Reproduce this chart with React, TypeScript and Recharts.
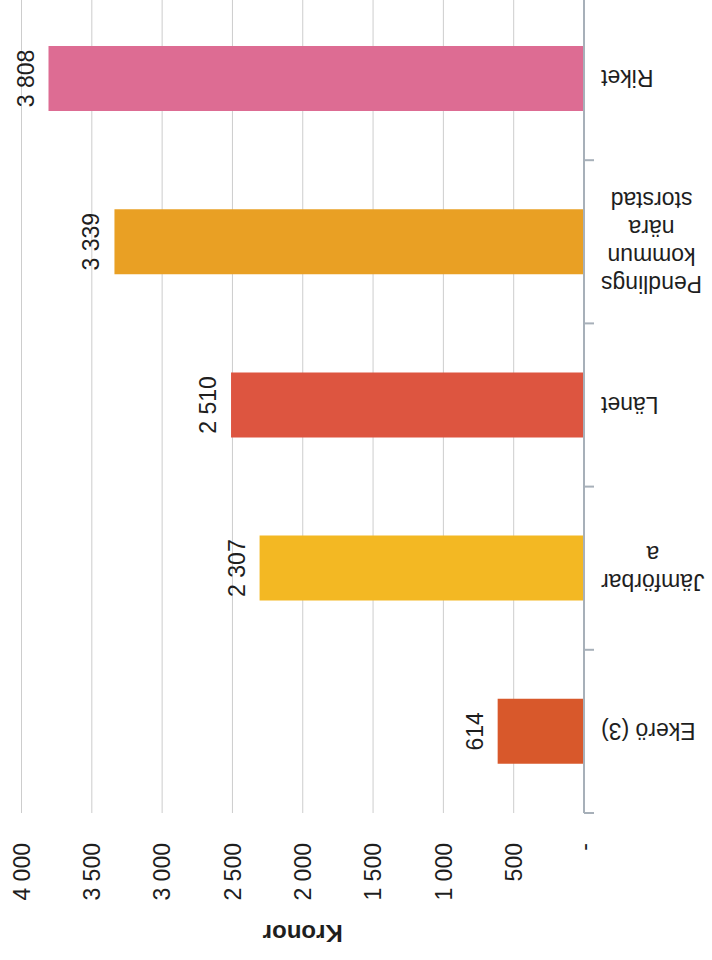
import { BarChart, Bar, XAxis, YAxis, CartesianGrid, Cell, LabelList, Label } from 'recharts';

const categories = ['Riket', 'Pendlingskommun nära storstad', 'Länet', 'Jämförbara', 'Ekerö (3)'];
const categoryLines = [
  ['Riket'],
  ['Pendlings', 'kommun', 'nära', 'storstad'],
  ['Länet'],
  ['Jämförbar', 'a'],
  ['Ekerö (3)'],
];
const values = [3808, 3339, 2510, 2307, 614];
const barColors = ['#dd6c93', '#e9a024', '#dd5540', '#f3b823', '#d8582b'];
const valueTicks = [0, 500, 1000, 1500, 2000, 2500, 3000, 3500, 4000];
const axisTitle = 'Kronor';

const data = categories.map((name, i) => ({ name, value: values[i] }));

const FONT = '"Liberation Sans", Arial, sans-serif';
const TEXT = '#1e1e1e';
const AXIS = '#a7b0b9';

// 3808 -> "3 808", 0 -> "-"
const fmt = (v: number) => (v === 0 ? '-' : String(v).replace(/\B(?=(\d{3})+(?!\d))/g, ' '));

let ctx: CanvasRenderingContext2D | null = null;
const measure = (s: string) => {
  if (!ctx) ctx = document.createElement('canvas').getContext('2d');
  if (!ctx) return s.length * 12;
  ctx.font = '23px "Liberation Sans"';
  return ctx.measureText(s).width;
};

const CategoryTick = (props: any) => {
  const { x, y, payload } = props;
  const i = categories.indexOf(payload.value);
  const lines = categoryLines[i] || [String(payload.value)];
  const half = payload.offset || 81.6;
  const axisX = x - 17;
  const w = Math.max(...lines.map(measure));
  const cx = x + w / 2;
  const lh = 28;
  return (
    <g>
      <line x1={axisX} x2={axisX + 10} y1={y + half} y2={y + half} stroke={AXIS} strokeWidth={2} />
      <g transform={`rotate(180, ${cx}, ${y})`}>
        <text x={cx} y={y} textAnchor="middle" fontSize={23} fontFamily={FONT} fill={TEXT}>
          {lines.map((l, k) => (
            <tspan key={k} x={cx} y={y + (k - (lines.length - 1) / 2) * lh} dy="0.36em">
              {l}
            </tspan>
          ))}
        </text>
      </g>
    </g>
  );
};

const ValueTick = (props: any) => {
  const { x, y, payload } = props;
  return (
    <text
      transform={`rotate(-90, ${x}, ${y})`}
      x={x}
      y={y}
      dy="0.36em"
      textAnchor="end"
      fontSize={23}
      fontFamily={FONT}
      fill={TEXT}
    >
      {fmt(payload.value)}
    </text>
  );
};

const ValueLabel = (props: any) => {
  const x = Number(props.x);
  const w = Number(props.width);
  const y = Number(props.y);
  const h = Number(props.height);
  const lx = Math.min(x, x + w) - 15;
  const cy = y + h / 2;
  return (
    <text
      transform={`rotate(-90, ${lx}, ${cy})`}
      x={lx}
      y={cy}
      textAnchor="middle"
      fontSize={23}
      fontFamily={FONT}
      fill={TEXT}
    >
      {fmt(Number(props.value))}
    </text>
  );
};

const AxisTitle = (props: any) => {
  const vb = props.viewBox || {};
  const cx = vb.x + vb.width / 2;
  const cy = vb.y + 121;
  return (
    <text
      transform={`rotate(180, ${cx}, ${cy})`}
      x={cx}
      y={cy}
      dy="0.36em"
      textAnchor="middle"
      fontSize={24}
      fontWeight="bold"
      fontFamily={FONT}
      fill={TEXT}
    >
      {axisTitle}
    </text>
  );
};

export default function App() {
  return (
    <div style={{ position: 'absolute', left: 0, top: -3, background: '#fff' }}>
      <BarChart
        width={712}
        height={963}
        data={data}
        layout="vertical"
        margin={{ top: 0, right: 0, bottom: 0, left: 21.5 }}
      >
        <CartesianGrid horizontal={false} stroke="#cdcdcd" />
        <XAxis
          type="number"
          domain={[0, 4000]}
          ticks={valueTicks}
          reversed
          interval={0}
          axisLine={false}
          tickLine={false}
          tickSize={0}
          tickMargin={30}
          height={147}
          tick={ValueTick}
        >
          <Label content={AxisTitle} />
        </XAxis>
        <YAxis
          type="category"
          dataKey="name"
          orientation="right"
          width={128}
          interval={0}
          axisLine={{ stroke: AXIS, strokeWidth: 2 }}
          tickLine={false}
          tickSize={0}
          tickMargin={17}
          tick={CategoryTick}
        />
        <Bar dataKey="value" barSize={65} isAnimationActive={false}>
          {data.map((d, i) => (
            <Cell key={d.name} fill={barColors[i]} />
          ))}
          <LabelList dataKey="value" content={ValueLabel} />
        </Bar>
      </BarChart>
    </div>
  );
}
